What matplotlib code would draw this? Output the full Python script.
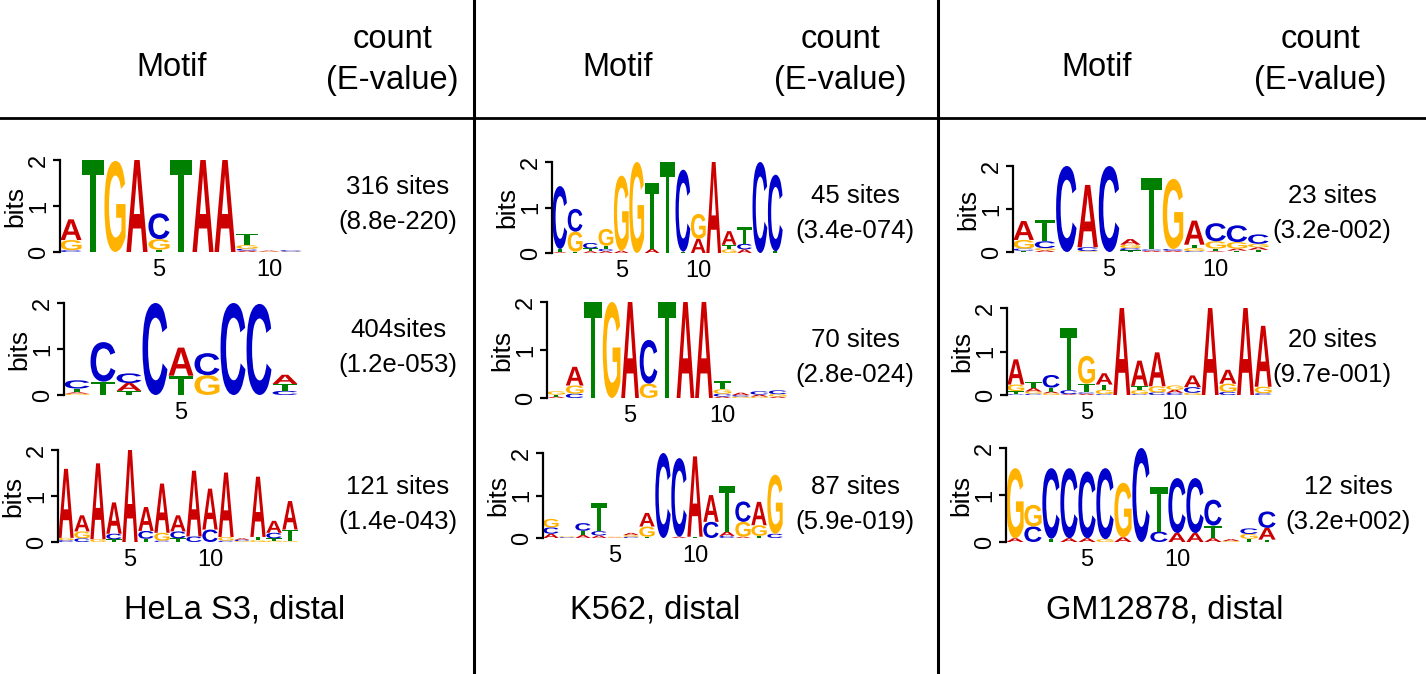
import matplotlib
matplotlib.use('Agg')
import matplotlib.pyplot as plt
from matplotlib.textpath import TextPath
from matplotlib.patches import PathPatch
from matplotlib.font_manager import FontProperties
from matplotlib.transforms import Affine2D
from matplotlib.lines import Line2D

# ---- data: motif columns as {base: bits} ----
cell_lines = ['HeLa S3, distal', 'K562, distal', 'GM12878, distal']
site_counts = [['316 sites', '404sites', '121 sites'],
               ['45 sites', '70 sites', '87 sites'],
               ['23 sites', '20 sites', '12 sites']]
e_values = [['(8.8e-220)', '(1.2e-053)', '(1.4e-043)'],
            ['(3.4e-074)', '(2.8e-024)', '(5.9e-019)'],
            ['(3.2e-002)', '(9.7e-001)', '(3.2e+002)']]

hela_1 = [{'C': 0.04, 'G': 0.22, 'A': 0.45}, {'T': 2.0}, {'G': 1.98}, {'A': 2.0},
          {'T': 0.05, 'G': 0.23, 'C': 0.56}, {'T': 2.0}, {'A': 2.0}, {'A': 2.0},
          {'A': 0.03, 'C': 0.04, 'G': 0.08, 'T': 0.25}, {'G': 0.01, 'A': 0.02},
          {'G': 0.01, 'C': 0.03}]
hela_2 = [{'G': 0.03, 'A': 0.03, 'T': 0.08, 'C': 0.18}, {'T': 0.29, 'C': 0.86},
          {'T': 0.09, 'A': 0.17, 'C': 0.21}, {'C': 2.0}, {'T': 0.42, 'A': 0.61},
          {'G': 0.43, 'C': 0.48}, {'C': 2.0}, {'C': 1.98},
          {'C': 0.09, 'T': 0.15, 'A': 0.2}]
hela_3 = [{'C': 0.04, 'G': 0.05, 'A': 1.5}, {'C': 0.08, 'G': 0.15, 'A': 0.35},
          {'G': 0.06, 'A': 1.65}, {'T': 0.06, 'C': 0.12, 'A': 0.68}, {'A': 2.0},
          {'T': 0.07, 'C': 0.17, 'A': 0.52}, {'C': 0.03, 'G': 0.17, 'A': 1.07},
          {'T': 0.08, 'C': 0.15, 'A': 0.35}, {'C': 0.12, 'A': 1.43},
          {'C': 0.27, 'A': 0.89}, {'C': 0.03, 'G': 0.08, 'A': 1.4},
          {'G': 0.02, 'C': 0.03, 'A': 0.03}, {'G': 0.04, 'T': 0.07, 'A': 1.31},
          {'G': 0.03, 'T': 0.05, 'C': 0.12, 'A': 0.26},
          {'G': 0.02, 'T': 0.25, 'A': 0.62}]

k562_1 = [{'A': 0.02, 'T': 0.07, 'C': 1.38}, {'T': 0.03, 'G': 0.44, 'C': 0.5},
          {'A': 0.04, 'T': 0.06, 'C': 0.12}, {'A': 0.04, 'C': 0.05, 'T': 0.07, 'G': 0.37},
          {'A': 0.05, 'G': 1.65}, {'G': 2.0}, {'A': 0.09, 'T': 1.45}, {'T': 2.0},
          {'T': 0.03, 'C': 1.8}, {'A': 0.31, 'G': 0.55}, {'A': 2.0},
          {'G': 0.08, 'T': 0.1, 'A': 0.3}, {'A': 0.08, 'C': 0.12, 'T': 0.37},
          {'C': 2.0}, {'T': 0.04, 'C': 1.68}]
k562_2 = [{'A': 0.03, 'T': 0.04, 'G': 0.07}, {'C': 0.09, 'G': 0.17, 'A': 0.39},
          {'T': 2.0}, {'G': 2.0}, {'A': 2.0}, {'G': 0.3, 'C': 0.91}, {'T': 2.0},
          {'A': 2.0}, {'A': 2.0}, {'A': 0.03, 'C': 0.06, 'G': 0.09, 'T': 0.17},
          {'G': 0.03, 'C': 0.03, 'A': 0.05}, {'G': 0.03, 'A': 0.04, 'C': 0.07},
          {'A': 0.03, 'G': 0.05, 'C': 0.08}]
k562_3 = [{'A': 0.1, 'C': 0.15, 'G': 0.2}, {'C': 0.02, 'G': 0.02},
          {'A': 0.07, 'T': 0.1, 'C': 0.18}, {'A': 0.06, 'C': 0.1, 'T': 0.66},
          {'A': 0.01, 'G': 0.02}, {'C': 0.03, 'G': 0.04, 'A': 0.05},
          {'T': 0.03, 'G': 0.24, 'A': 0.32}, {'C': 2.0}, {'A': 0.03, 'C': 1.85},
          {'T': 0.03, 'A': 1.89}, {'C': 0.38, 'A': 0.63},
          {'C': 0.05, 'A': 0.1, 'T': 1.08}, {'A': 0.03, 'G': 0.35, 'C': 0.48},
          {'T': 0.05, 'G': 0.25, 'A': 0.55}, {'C': 0.1, 'G': 1.39}]

gm_1 = [{'T': 0.03, 'C': 0.05, 'G': 0.2, 'A': 0.44},
        {'A': 0.04, 'G': 0.05, 'C': 0.16, 'T': 0.5}, {'C': 2.0},
        {'G': 0.02, 'C': 0.09, 'A': 1.45}, {'C': 2.0},
        {'T': 0.04, 'C': 0.05, 'G': 0.08, 'A': 0.13},
        {'A': 0.03, 'C': 0.03, 'T': 1.66}, {'A': 0.03, 'C': 0.04, 'G': 1.63},
        {'C': 0.02, 'G': 0.07, 'T': 0.08, 'A': 0.56},
        {'A': 0.02, 'T': 0.06, 'G': 0.17, 'C': 0.42},
        {'T': 0.03, 'A': 0.05, 'G': 0.15, 'C': 0.39},
        {'T': 0.05, 'A': 0.06, 'G': 0.08, 'C': 0.22}]
gm_2 = [{'C': 0.02, 'T': 0.07, 'G': 0.15, 'A': 0.58},
        {'C': 0.03, 'G': 0.05, 'A': 0.08, 'T': 0.14},
        {'G': 0.04, 'A': 0.04, 'T': 0.09, 'C': 0.29},
        {'A': 0.02, 'C': 0.09, 'T': 1.42},
        {'A': 0.03, 'C': 0.03, 'T': 0.2, 'G': 0.64},
        {'C': 0.02, 'G': 0.1, 'T': 0.12, 'A': 0.26}, {'A': 2.0},
        {'C': 0.02, 'G': 0.09, 'T': 0.1, 'A': 0.58},
        {'C': 0.06, 'G': 0.14, 'A': 0.78}, {'C': 0.05, 'A': 0.07, 'G': 0.1},
        {'G': 0.05, 'C': 0.13, 'A': 0.27}, {'A': 2.0},
        {'C': 0.07, 'G': 0.19, 'A': 0.32}, {'A': 2.0},
        {'C': 0.04, 'G': 0.15, 'A': 1.4}]
gm_3 = [{'A': 0.08, 'G': 1.49}, {'C': 0.33, 'G': 0.46}, {'T': 0.07, 'C': 1.5},
        {'A': 0.08, 'C': 1.49}, {'A': 0.08, 'C': 1.42}, {'G': 0.06, 'C': 1.51},
        {'A': 0.1, 'G': 1.16}, {'C': 2.0}, {'C': 0.22, 'T': 0.96},
        {'A': 0.19, 'C': 1.17}, {'A': 0.19, 'C': 1.17},
        {'A': 0.08, 'T': 0.27, 'C': 0.55}, {'G': 0.02, 'A': 0.04},
        {'T': 0.07, 'G': 0.1, 'C': 0.12}, {'T': 0.05, 'A': 0.25, 'C': 0.35}]

logos = [[hela_1, hela_2, hela_3], [k562_1, k562_2, k562_3], [gm_1, gm_2, gm_3]]

base_colors = {'A': '#CC0000', 'C': '#0000CC', 'G': '#FFB300', 'T': '#008000'}

# ---- layout (pixels, top-left origin) ----
W, H = 1426, 674
# (x of y-axis, y of 0 bits, y of 2 bits, width)
boxes = [[(60, 252, 160, 242), (64, 395, 303, 234), (58, 542, 450, 240)],
         [(552, 253, 162, 231), (547, 398, 302, 240), (543, 538, 453, 240)],
         [(1013, 252, 166, 256), (1007, 395, 308, 265), (1006, 542, 448, 270)]]
motif_x = [172, 618, 1097]
count_x = [392, 840, 1320]
row_text_x = [[398, 398, 398], [855, 855, 855], [1332, 1332, 1348]]
row_text_y = [[187, 330, 487], [196, 340, 487], [196, 340, 487]]
label_x = [235, 655, 1165]

plt.rcParams['font.family'] = ['Liberation Sans', 'DejaVu Sans']
fig = plt.figure(figsize=(W / 100, H / 100), dpi=100)

fp = FontProperties(family='Liberation Sans', weight='bold')
glyphs = {b: TextPath((0, 0), b, size=1, prop=fp) for b in 'ACGT'}


def fx(x):
    return x / W


def fy(y):
    return 1 - y / H


def draw_logo(ax, columns):
    for i, col in enumerate(columns, start=1):
        y = 0
        for base, h in sorted(col.items(), key=lambda kv: kv[1]):
            p = glyphs[base]
            ext = p.get_extents()
            tr = (Affine2D().translate(-ext.x0, -ext.y0)
                  .scale(0.96 / ext.width, h / ext.height)
                  .translate(i - 0.48, y))
            ax.add_patch(PathPatch(tr.transform_path(p), fc=base_colors[base],
                                   ec='none', lw=0))
            y += h


for p in range(3):
    for r in range(3):
        x0, y0, y2, w = boxes[p][r]
        ax = fig.add_axes([fx(x0), fy(y0), w / W, (y0 - y2) / H])
        cols = logos[p][r]
        draw_logo(ax, cols)
        n = len(cols)
        ax.set_xlim(0.5, n + 0.5)
        ax.set_ylim(0, 2)
        for s in ['top', 'right', 'bottom']:
            ax.spines[s].set_visible(False)
        ax.spines['left'].set_linewidth(1.6)
        ax.spines['left'].set_bounds(0, 2)
        ax.set_yticks([0, 1, 2])
        ax.tick_params(axis='y', labelsize=17, labelrotation=90, length=5,
                       width=1.6, pad=2)
        for lab in ax.get_yticklabels():
            lab.set_va('center')
        ax.set_xticks([t for t in (5, 10) if t <= n])
        ax.tick_params(axis='x', length=0, labelsize=17, pad=5)
        ax.set_ylabel('bits', fontsize=19, labelpad=1)
        ax.patch.set_visible(False)

    fig.text(fx(motif_x[p]), fy(68), 'Motif', fontsize=23.5, ha='center', va='center')
    fig.text(fx(count_x[p]), fy(40), 'count', fontsize=23.5, ha='center', va='center')
    fig.text(fx(count_x[p]), fy(80), '(E-value)', fontsize=23.5, ha='center', va='center')
    for r in range(3):
        fig.text(fx(row_text_x[p][r]), fy(row_text_y[p][r]), site_counts[p][r],
                 fontsize=18.5, ha='center', va='center')
        fig.text(fx(row_text_x[p][r]), fy(row_text_y[p][r] + 35), e_values[p][r],
                 fontsize=18.5, ha='center', va='center')
    fig.text(fx(label_x[p]), fy(610), cell_lines[p], fontsize=23.5,
             ha='center', va='center')

fig.add_artist(Line2D([0, 1], [fy(118), fy(118)], transform=fig.transFigure,
                      color='black', lw=2))
for xv in (474, 938):
    fig.add_artist(Line2D([fx(xv), fx(xv)], [0, 1], transform=fig.transFigure,
                          color='black', lw=2.2))

fig.savefig('out.png', dpi=100)
